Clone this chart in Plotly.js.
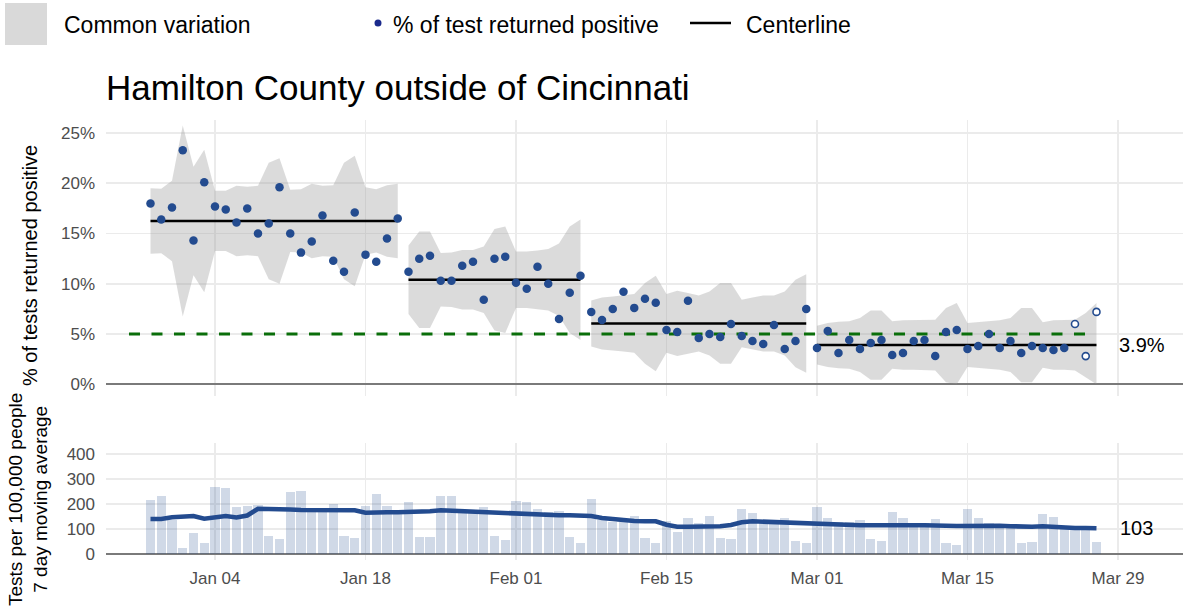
<!DOCTYPE html>
<html>
<head>
<meta charset="utf-8">
<script src="https://cdn.plot.ly/plotly-3.0.1.min.js"></script>
<style>
  html, body { margin: 0; padding: 0; background: #ffffff; }
  #chart { width: 1186px; height: 608px; }
</style>
</head>
<body>
<div id="chart"></div>
<script>
// ---------------- DATA ----------------
const dates = [
  '2020-12-29','2020-12-30','2020-12-31',
  '2021-01-01','2021-01-02','2021-01-03','2021-01-04','2021-01-05','2021-01-06','2021-01-07','2021-01-08','2021-01-09','2021-01-10',
  '2021-01-11','2021-01-12','2021-01-13','2021-01-14','2021-01-15','2021-01-16','2021-01-17','2021-01-18','2021-01-19','2021-01-20',
  '2021-01-21','2021-01-22','2021-01-23','2021-01-24','2021-01-25','2021-01-26','2021-01-27','2021-01-28','2021-01-29','2021-01-30',
  '2021-01-31','2021-02-01','2021-02-02','2021-02-03','2021-02-04','2021-02-05','2021-02-06','2021-02-07','2021-02-08','2021-02-09',
  '2021-02-10','2021-02-11','2021-02-12','2021-02-13','2021-02-14','2021-02-15','2021-02-16','2021-02-17','2021-02-18','2021-02-19',
  '2021-02-20','2021-02-21','2021-02-22','2021-02-23','2021-02-24','2021-02-25','2021-02-26','2021-02-27','2021-02-28','2021-03-01',
  '2021-03-02','2021-03-03','2021-03-04','2021-03-05','2021-03-06','2021-03-07','2021-03-08','2021-03-09','2021-03-10','2021-03-11',
  '2021-03-12','2021-03-13','2021-03-14','2021-03-15','2021-03-16','2021-03-17','2021-03-18','2021-03-19','2021-03-20','2021-03-21',
  '2021-03-22','2021-03-23','2021-03-24','2021-03-25','2021-03-26','2021-03-27'
];

// % of tests returned positive (daily)
const pctPositive = [
  18.0, 16.4, 17.6, 23.3, 14.3, 20.1, 17.7, 17.4, 16.1, 17.5, 15.0, 16.0, 19.6, 15.0, 13.1, 14.2, 16.8, 12.3, 11.2, 17.1, 12.9, 12.2, 14.5, 16.5,
  11.2, 12.5, 12.8, 10.3, 10.3, 11.8, 12.2, 8.4, 12.5, 12.7, 10.1, 9.5, 11.7, 10.0, 6.5, 9.1, 10.8,
  7.2, 6.4, 7.5, 9.2, 7.6, 8.5, 8.1, 5.4, 5.2, 8.3, 4.6, 5.0, 4.7, 6.0, 4.8, 4.3, 4.0, 5.9, 3.5, 4.3, 7.5,
  3.6, 5.3, 3.1, 4.4, 3.5, 4.1, 4.4, 2.9, 3.1, 4.3, 4.4, 2.8, 5.2, 5.4, 3.5, 3.8, 5.0, 3.6, 4.3, 3.1, 3.8, 3.6, 3.4, 3.6, 6.0, 2.8, 7.2
];

// half width of the common-variation band (percentage points)
const bandHalfWidth = [
  3.26, 3.2, 4.0, 9.5, 5.4, 7.1, 3.0, 3.0, 3.5, 3.4, 3.5, 5.8, 6.25, 3.1, 3.15, 3.7, 3.5, 3.55, 5.8, 6.5, 3.35, 3.15, 3.55, 3.7,
  3.4, 4.8, 4.8, 2.66, 2.72, 2.95, 2.95, 3.3, 5.05, 5.3, 2.8, 2.8, 2.9, 3.05, 3.6, 5.3, 6.0,
  2.29, 2.59, 2.69, 2.79, 2.92, 4.02, 4.75, 2.92, 3.25, 3.02, 2.79, 3.19, 4.02, 4.02, 2.36, 2.59, 2.79, 2.79, 3.19, 4.35, 4.91,
  1.93, 2.19, 2.32, 2.36, 2.69, 3.45, 3.45, 2.36, 2.46, 2.46, 2.46, 2.52, 3.69, 4.18, 2.19, 2.26, 2.36, 2.46, 2.69, 3.69, 3.69, 2.26, 2.46, 2.46, 2.52, 3.19, 4.18
];

// process segments (first / last date) and their centerlines
const segmentStart = ['2020-12-29', '2021-01-22', '2021-02-08', '2021-03-01'];
const segmentEnd   = ['2021-01-21', '2021-02-07', '2021-02-28', '2021-03-27'];
const centerline   = [16.25, 10.4, 6.05, 3.9];

// provisional (open) points
const provisionalDates = ['2021-03-25', '2021-03-26', '2021-03-27'];

// 5% target line
const targetLevel = 5;
const targetStart = '2020-12-27';
const targetEnd   = '2021-03-27';

// Tests per 100,000 people: daily and 7 day moving average
const testsDaily = [
  216, 232, 136, 24, 85, 44, 267, 263, 188, 193, 195, 71, 60, 247, 253, 170, 185, 200, 71, 64, 191, 241, 193, 170,
  207, 68, 70, 232, 231, 170, 175, 187, 73, 56, 213, 208, 180, 168, 173, 69, 45,
  219, 136, 129, 130, 152, 65, 43, 133, 89, 143, 123, 153, 63, 61, 180, 163, 132, 132, 143, 53, 43,
  187, 143, 130, 130, 136, 59, 52, 167, 143, 123, 123, 140, 45, 35, 180, 143, 123, 116, 110, 45, 48, 159, 148, 112, 110, 110, 48
];
const tests7day = [
  140, 140, 147, 148, 152, 141, 147, 152, 146, 154, 181, 181, 181, 178, 176, 175, 175, 175, 175, 175, 165, 164, 167, 167,
  168, 168, 171, 175, 173, 171, 168, 165, 164, 163, 160, 159, 157, 156, 155, 155, 153,
  152, 144, 139, 135, 132, 131, 131, 117, 109, 109, 109, 109, 111, 116, 127, 131, 129, 129, 128, 125, 121,
  121, 120, 117, 116, 115, 115, 116, 117, 116, 115, 115, 116, 113, 112, 113, 115, 115, 113, 111, 109, 109, 111, 108, 105, 104, 104, 103
];

const yTicksPct = [0, 5, 10, 15, 20, 25];
const yTicksTests = [0, 100, 200, 300, 400];

// ---------------- STYLE ----------------
const FONT = 'Liberation Sans, Arial, Helvetica, sans-serif';
const BLUE = '#234B8F';
const GRID = '#ebebeb';
const TICKC = '#4d4d4d';

// ---------------- TRACES ----------------
const traces = [];

// common variation bands, one per segment
for (let s = 0; s < segmentStart.length; s++) {
  const i0 = dates.indexOf(segmentStart[s]);
  const i1 = dates.indexOf(segmentEnd[s]);
  const xs = dates.slice(i0, i1 + 1);
  const hw = bandHalfWidth.slice(i0, i1 + 1);
  const up = hw.map(h => centerline[s] + h);
  const lo = hw.map(h => Math.max(0, centerline[s] - h));
  traces.push({
    type: 'scatter', mode: 'lines', xaxis: 'x', yaxis: 'y',
    x: xs.concat(xs.slice().reverse()),
    y: up.concat(lo.slice().reverse()),
    fill: 'toself', fillcolor: 'rgba(150,150,150,0.34)',
    line: { width: 0 }, hoverinfo: 'skip', showlegend: false
  });
}
// centerlines
for (let s = 0; s < segmentStart.length; s++) {
  traces.push({
    type: 'scatter', mode: 'lines', xaxis: 'x', yaxis: 'y',
    x: [segmentStart[s], segmentEnd[s]], y: [centerline[s], centerline[s]],
    line: { color: '#000000', width: 2.6 }, showlegend: false
  });
}
// 5% target
traces.push({
  type: 'scatter', mode: 'lines', xaxis: 'x', yaxis: 'y',
  x: [targetStart, targetEnd], y: [targetLevel, targetLevel],
  line: { color: '#0a6e0a', width: 3.2, dash: '11px,11.5px' }, showlegend: false
});
// points
const solidX = [], solidY = [], openX = [], openY = [];
dates.forEach((d, i) => {
  if (provisionalDates.includes(d)) { openX.push(d); openY.push(pctPositive[i]); }
  else { solidX.push(d); solidY.push(pctPositive[i]); }
});
traces.push({
  type: 'scatter', mode: 'markers', xaxis: 'x', yaxis: 'y',
  x: solidX, y: solidY, marker: { color: BLUE, size: 8.5 }, showlegend: false
});
traces.push({
  type: 'scatter', mode: 'markers', xaxis: 'x', yaxis: 'y',
  x: openX, y: openY, marker: { color: '#ffffff', size: 7, line: { color: BLUE, width: 1.6 } }, showlegend: false
});

// bottom panel
traces.push({
  type: 'bar', xaxis: 'x2', yaxis: 'y2',
  x: dates, y: testsDaily, width: 0.86 * 86400000,
  marker: { color: 'rgba(35,75,143,0.21)', line: { width: 0 } }, showlegend: false
});
traces.push({
  type: 'scatter', mode: 'lines', xaxis: 'x2', yaxis: 'y2',
  x: dates, y: tests7day, line: { color: BLUE, width: 4.6 }, showlegend: false
});

// ---------------- LAYOUT ----------------
const W = 1186, H = 608, ML = 106, MR = 3, MT = 120, MB = 48;
const PW = W - ML - MR, PH = H - MT - MB;
const px = x => (x - ML) / PW;          // pixel -> paper x
const py = y => (H - MB - y) / PH;      // pixel -> paper y

const xRange = ['2020-12-24 20:40', '2021-04-04 01:10'];
const xCommon = {
  type: 'date', range: xRange, tick0: '2021-01-04', dtick: 14 * 86400000,
  tickformat: '%b %d', showgrid: true, gridcolor: GRID, gridwidth: 1.7,
  zeroline: false, showline: false, ticks: '',
  tickfont: { family: FONT, size: 17, color: TICKC }
};

const layout = {
  width: W, height: H,
  margin: { l: ML, r: MR, t: MT, b: MB, pad: 0 },
  paper_bgcolor: '#ffffff', plot_bgcolor: '#ffffff',
  font: { family: FONT, color: '#000000' },
  showlegend: false,
  bargap: 0,
  title: {
    text: 'Hamilton County outside of Cincinnati',
    xref: 'paper', x: 0, xanchor: 'left',
    yref: 'container', y: 1 - 88 / H, yanchor: 'middle',
    font: { family: FONT, size: 35, color: '#000000' }
  },
  xaxis: Object.assign({}, xCommon, { domain: [0, 1], anchor: 'y', showticklabels: false }),
  xaxis2: Object.assign({}, xCommon, { domain: [0, 1], anchor: 'y2', showticklabels: true, ticklabelstandoff: 6 }),
  yaxis: {
    domain: [py(396), 1], range: [-1.17, 26.3],
    tickvals: yTicksPct, ticktext: yTicksPct.map(v => v + '%'),
    showgrid: true, gridcolor: GRID, gridwidth: 1.7,
    zeroline: true, zerolinecolor: '#7a7a7a', zerolinewidth: 2.2,
    showline: false, ticks: '', ticklabelstandoff: 10,
    tickfont: { family: FONT, size: 17, color: TICKC }
  },
  yaxis2: {
    domain: [0, py(443)], range: [-24, 444],
    tickvals: yTicksTests,
    showgrid: true, gridcolor: GRID, gridwidth: 1.7,
    zeroline: true, zerolinecolor: '#7a7a7a', zerolinewidth: 2.2,
    showline: false, ticks: '', ticklabelstandoff: 10,
    tickfont: { family: FONT, size: 17, color: TICKC }
  },
  shapes: [
    // legend: common variation swatch
    { type: 'rect', xref: 'paper', yref: 'paper', x0: px(5), x1: px(47), y0: py(45), y1: py(3),
      fillcolor: '#d9d9d9', line: { width: 0 } },
    // legend: point
    { type: 'circle', xref: 'paper', yref: 'paper', xsizemode: 'pixel', ysizemode: 'pixel',
      xanchor: px(378), yanchor: py(23), x0: -3.5, x1: 3.5, y0: -3.5, y1: 3.5,
      fillcolor: '#1b2a8c', line: { width: 0 } },
    // legend: centerline
    { type: 'line', xref: 'paper', yref: 'paper', x0: px(690), x1: px(731), y0: py(23), y1: py(23),
      line: { color: '#000000', width: 2.6 } }
  ],
  annotations: [
    { xref: 'paper', yref: 'paper', x: px(62), y: py(25), xanchor: 'left', yanchor: 'middle',
      text: 'Common variation', showarrow: false, font: { family: FONT, size: 23, color: '#000000' } },
    { xref: 'paper', yref: 'paper', x: px(391), y: py(25), xanchor: 'left', yanchor: 'middle',
      text: '% of test returned positive', showarrow: false, font: { family: FONT, size: 23, color: '#000000' } },
    { xref: 'paper', yref: 'paper', x: px(744), y: py(25), xanchor: 'left', yanchor: 'middle',
      text: 'Centerline', showarrow: false, font: { family: FONT, size: 23, color: '#000000' } },
    // axis titles
    { xref: 'paper', yref: 'paper', x: px(30), y: py(266), xanchor: 'center', yanchor: 'middle', textangle: -90,
      text: '% of tests returned positive', showarrow: false, font: { family: FONT, size: 20, color: '#000000' } },
    { xref: 'paper', yref: 'paper', x: px(28), y: py(500), xanchor: 'center', yanchor: 'middle', textangle: -90,
      text: 'Tests per 100,000 people<br>7 day moving average', showarrow: false,
      font: { family: FONT, size: 19, color: '#000000' } },
    // end labels
    { xref: 'x', yref: 'y', x: segmentEnd[segmentEnd.length - 1], y: centerline[centerline.length - 1],
      xanchor: 'left', yanchor: 'middle', xshift: 21, showarrow: false,
      text: centerline[centerline.length - 1].toFixed(1) + '%', font: { family: FONT, size: 20, color: '#000000' } },
    { xref: 'x2', yref: 'y2', x: dates[dates.length - 1], y: tests7day[tests7day.length - 1],
      xanchor: 'left', yanchor: 'middle', xshift: 22, showarrow: false,
      text: String(tests7day[tests7day.length - 1]), font: { family: FONT, size: 20, color: '#000000' } }
  ]
};

Plotly.newPlot('chart', traces, layout, { displayModeBar: false, staticPlot: true });
</script>
</body>
</html>
